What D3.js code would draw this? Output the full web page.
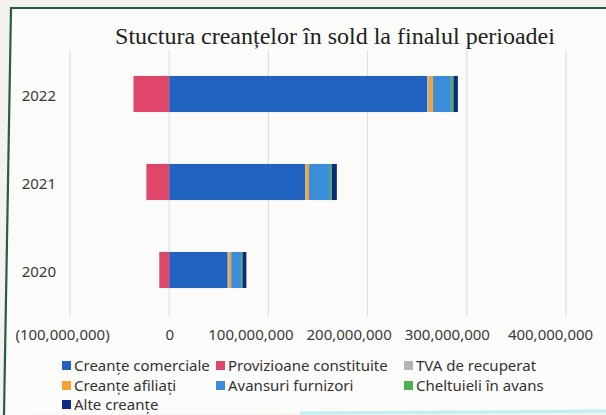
<!DOCTYPE html>
<html>
<head>
<meta charset="utf-8">
<script src="https://cdn.jsdelivr.net/npm/d3@7"></script>
<style>
  body { margin: 0; background: #f3f2ec; }
  svg { display: block; font-family: "Noto Sans", "Open Sans", sans-serif; }
</style>
</head>
<body>
<svg width="606" height="415"></svg>
<script>
// values (lei)
var years = ["2022", "2021", "2020"];
var seriesNames = ["Creanțe comerciale", "Provizioane constituite", "TVA de recuperat",
                   "Creanțe afiliați", "Avansuri furnizori", "Cheltuieli în avans", "Alte creanțe"];
var creanteComerciale = [260e6, 137e6, 59e6];
var provizioane       = [-36e6, -23e6, -10e6];
var tvaRecuperat      = [2e6, 1e6, 1e6];
var creanteAfiliati   = [4e6, 3e6, 2.5e6];
var avansuriFurnizori = [18e6, 21e6, 10e6];
var cheltuieliAvans   = [2.5e6, 2e6, 1.3e6];
var alteCreante       = [4.5e6, 5e6, 4e6];
var tickValues = [-100e6, 0, 100e6, 200e6, 300e6, 400e6];
var colors = ["#2263c2", "#e0456a", "#b4b4b4", "#f3a233", "#3b8ddb", "#4caf50", "#0d2a82"];

var allSeries = [creanteComerciale, provizioane, tvaRecuperat, creanteAfiliati,
                 avansuriFurnizori, cheltuieliAvans, alteCreante];
var table = years.map(function(y, i) {
  var row = { year: y };
  seriesNames.forEach(function(n, k) { row[n] = allSeries[k][i]; });
  return row;
});

var svg = d3.select("svg");

// chart frame (photographed slightly askew)
svg.append("path")
  .attr("d", "M11,9 L606,9 L606,412 L4,415 Z")
  .attr("fill", "#fbfbf9");
svg.append("path")
  .attr("d", "M606,8 L11,8 L4,415")
  .attr("fill", "none").attr("stroke", "#245d4c").attr("stroke-width", 2.2);
svg.append("path")
  .attr("d", "M300,413 L606,411")
  .attr("stroke", "#bfeff2").attr("stroke-width", 3);

var x = d3.scaleLinear().domain([-100e6, 400e6]).range([70, 566]);
var y = d3.scaleBand().domain(years).range([50, 314]).paddingInner(0.59).paddingOuter(0.295);

// gridlines
svg.append("g").selectAll("line")
  .data(tickValues).enter().append("line")
  .attr("x1", function(d) { return x(d); })
  .attr("x2", function(d) { return x(d); })
  .attr("y1", 50).attr("y2", 316)
  .attr("stroke", "#d9d9dc").attr("stroke-width", 1);

// bars
var stack = d3.stack().keys(seriesNames).offset(d3.stackOffsetDiverging);
var layers = stack(table);

svg.append("g").selectAll("g")
  .data(layers).enter().append("g")
  .attr("fill", function(d, i) { return colors[i]; })
  .selectAll("rect")
  .data(function(d) { return d; }).enter().append("rect")
  .attr("x", function(d) { return x(Math.min(d[0], d[1])); })
  .attr("width", function(d) { return Math.abs(x(d[1]) - x(d[0])); })
  .attr("y", function(d) { return y(d.data.year); })
  .attr("height", y.bandwidth());

// x axis labels
var fmt = d3.format(",");
var labelNudge = [-8, 0, -18, -19, -20, -16];
var xAxis = d3.axisBottom(x).tickValues(tickValues).tickSize(0)
  .tickFormat(function(d) { return d < 0 ? "(" + fmt(-d) + ")" : fmt(d); });
var gx = svg.append("g").attr("transform", "translate(0,326)").call(xAxis);
gx.select(".domain").remove();
gx.selectAll("text")
  .attr("font-size", 15).attr("fill", "#3a3a3a")
  .attr("font-family", "Noto Sans, sans-serif")
  .attr("dx", function(d, i) { return labelNudge[i]; });

// y axis labels
var yAxis = d3.axisLeft(y).tickSize(0).tickPadding(0);
var gy = svg.append("g").attr("transform", "translate(56,2)").call(yAxis);
gy.select(".domain").remove();
gy.selectAll("text")
  .attr("font-size", 15).attr("fill", "#3a3a3a")
  .attr("font-family", "Noto Sans, sans-serif");

// title
svg.append("text")
  .attr("x", 335).attr("y", 44)
  .attr("text-anchor", "middle")
  .attr("font-family", "Liberation Serif, serif")
  .attr("font-size", 24).attr("fill", "#222")
  .text("Stuctura creanțelor în sold la finalul perioadei");

// legend
var legendCols = [62, 216, 404];
var legendRows = [366, 386, 405];
var legend = svg.append("g").selectAll("g")
  .data(seriesNames).enter().append("g")
  .attr("transform", function(d, i) {
    return "translate(" + legendCols[i % 3] + "," + legendRows[Math.floor(i / 3)] + ")";
  });
legend.append("rect")
  .attr("x", 0).attr("y", -5).attr("width", 9).attr("height", 9)
  .attr("fill", function(d, i) { return colors[i]; });
legend.append("text")
  .attr("x", 12).attr("y", 0).attr("dy", "0.35em")
  .attr("font-size", 15).attr("fill", "#333")
  .text(function(d) { return d; });
</script>
</body>
</html>
